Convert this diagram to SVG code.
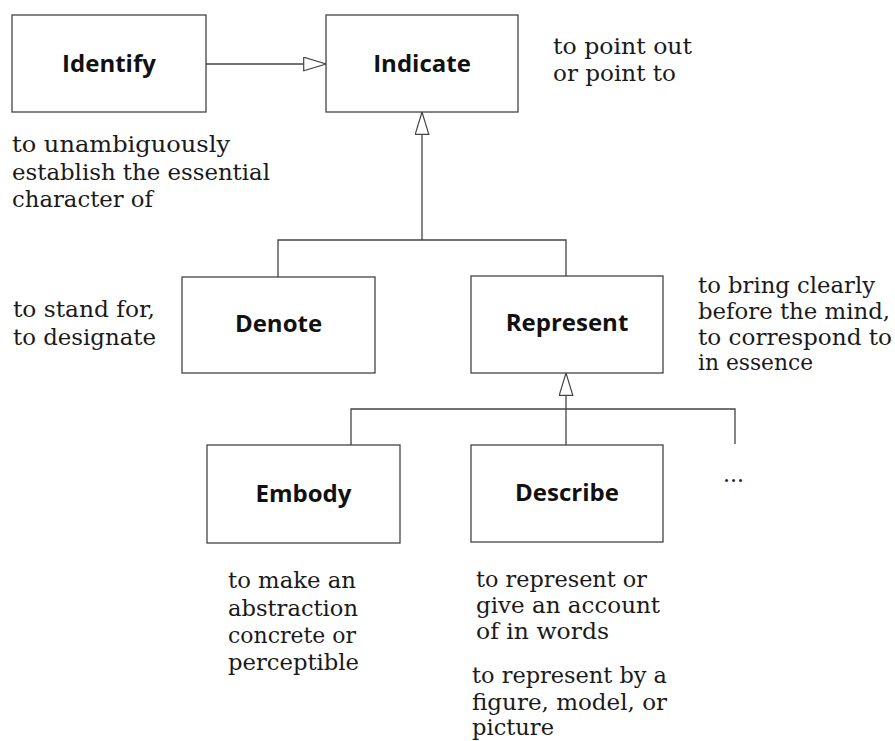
<svg xmlns="http://www.w3.org/2000/svg" width="895" height="741" viewBox="0 0 895 741">
<style>
.box{fill:#fff;stroke:#444;stroke-width:1.3}
.lbl{font-family:"Open Sans","Liberation Sans",sans-serif;font-weight:700;font-size:24px;fill:#111;text-anchor:middle}
.d{font-family:"DejaVu Serif","Liberation Serif",serif;font-size:22px;fill:#1a1a1a}
.ln{fill:none;stroke:#444;stroke-width:1.3}
</style>
<defs>
<marker id="tri" markerUnits="userSpaceOnUse" markerWidth="26" markerHeight="18" refX="23" refY="7.5" orient="auto">
<path d="M0.7,0.7 L23,7.5 L0.7,14.3 Z" fill="#fff" stroke="#444" stroke-width="1.2"/>
</marker>
</defs>
<rect width="895" height="741" fill="#fff"/>
<g id="connectors">
<path class="ln" d="M206,64 H326" marker-end="url(#tri)"/>
<path class="ln" d="M278,277 V240 H566 V276"/>
<path class="ln" d="M422,240 V112" marker-end="url(#tri)"/>
<path class="ln" d="M351,445 V409 H735 V444"/>
<path class="ln" d="M566,445 V409"/>
<path class="ln" d="M566,409 V373" marker-end="url(#tri)"/>
</g>
<g id="identify">
<rect class="box" x="12" y="15" width="194" height="97"/>
<text class="lbl" x="109" y="72">Identify</text>
<text class="d" x="12" y="152" textLength="218" lengthAdjust="spacingAndGlyphs">to unambiguously</text>
<text class="d" x="12" y="180" textLength="258" lengthAdjust="spacingAndGlyphs">establish the essential</text>
<text class="d" x="12" y="207" textLength="141" lengthAdjust="spacingAndGlyphs">character of</text>
</g>
<g id="indicate">
<rect class="box" x="326" y="15" width="192" height="97"/>
<text class="lbl" x="422" y="72">Indicate</text>
<text class="d" x="553" y="54" textLength="139" lengthAdjust="spacingAndGlyphs">to point out</text>
<text class="d" x="553" y="81" textLength="123" lengthAdjust="spacingAndGlyphs">or point to</text>
</g>
<g id="denote">
<rect class="box" x="182" y="277" width="193" height="96"/>
<text class="lbl" x="278.5" y="332">Denote</text>
<text class="d" x="13" y="317" textLength="142" lengthAdjust="spacingAndGlyphs">to stand for,</text>
<text class="d" x="13" y="345" textLength="143" lengthAdjust="spacingAndGlyphs">to designate</text>
</g>
<g id="represent">
<rect class="box" x="471" y="276" width="192" height="97"/>
<text class="lbl" x="567" y="331">Represent</text>
<text class="d" x="698" y="293" textLength="177" lengthAdjust="spacingAndGlyphs">to bring clearly</text>
<text class="d" x="698" y="319" textLength="192" lengthAdjust="spacingAndGlyphs">before the mind,</text>
<text class="d" x="698" y="345" textLength="194" lengthAdjust="spacingAndGlyphs">to correspond to</text>
<text class="d" x="698" y="370" textLength="115" lengthAdjust="spacingAndGlyphs">in essence</text>
</g>
<g id="embody">
<rect class="box" x="207" y="445" width="193" height="98"/>
<text class="lbl" x="303.5" y="502">Embody</text>
<text class="d" x="228" y="588" textLength="128" lengthAdjust="spacingAndGlyphs">to make an</text>
<text class="d" x="228" y="616" textLength="130" lengthAdjust="spacingAndGlyphs">abstraction</text>
<text class="d" x="228" y="643" textLength="128" lengthAdjust="spacingAndGlyphs">concrete or</text>
<text class="d" x="228" y="670" textLength="131" lengthAdjust="spacingAndGlyphs">perceptible</text>
</g>
<g id="describe">
<rect class="box" x="471" y="445" width="192" height="97"/>
<text class="lbl" x="567" y="501">Describe</text>
<text class="d" x="476" y="587" textLength="171" lengthAdjust="spacingAndGlyphs">to represent or</text>
<text class="d" x="476" y="613" textLength="184" lengthAdjust="spacingAndGlyphs">give an account</text>
<text class="d" x="476" y="639" textLength="133" lengthAdjust="spacingAndGlyphs">of in words</text>
<text class="d" x="472" y="683" textLength="195" lengthAdjust="spacingAndGlyphs">to represent by a</text>
<text class="d" x="472" y="710" textLength="195" lengthAdjust="spacingAndGlyphs">figure, model, or</text>
<text class="d" x="472" y="735" textLength="82" lengthAdjust="spacingAndGlyphs">picture</text>
</g>
<g id="more">
<text class="d" x="723" y="482">...</text>
</g>
</svg>
